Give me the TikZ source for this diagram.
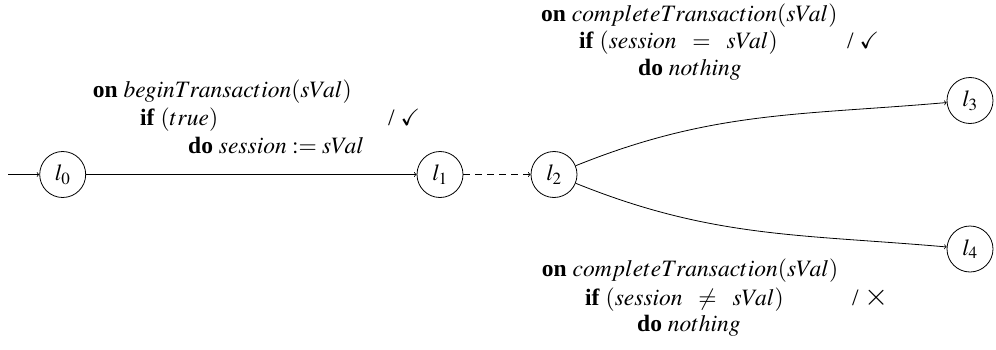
\documentclass[tikz,border=0pt]{standalone}
\usepackage{amssymb}
\usepackage{mathptmx}
\usepackage{fontspec}
\setmainfont{Liberation Serif}
\tikzset{
  state/.style={circle,draw,line width=0.8pt,minimum size=46pt,inner sep=0pt,font=\fontsize{23}{27}\selectfont},
  lbl/.style={anchor=base west,inner sep=0pt,font=\fontsize{23.5}{27}\selectfont},
  edge/.style={->,line width=0.8pt},
}
\begin{document}
\begin{tikzpicture}[x=1pt,y=1pt]
\useasboundingbox (0,0) rectangle (996,349);
\node[state] (l0) at (62.7,174.5) {$l_0$};
\node[state] (l1) at (440,174.5) {$l_1$};
\node[state] (l2) at (554,174.5) {$l_2$};
\node[state] (l3) at (970,248.5) {$l_3$};
\node[state] (l4) at (970,100) {$l_4$};
\coordinate (start) at (8,174.5);
\draw[edge] (start) -- (l0);
\draw[edge] (l0) -- (l1);
\draw[edge,dash pattern=on 7pt off 5pt] (l1) -- (l2);
\draw[edge] (l2) to[out=22,in=185] (l3);
\draw[edge] (l2) to[out=-22,in=175] (l4);
% left label
\node[lbl] (a1) at (92.7,251.7) {\textbf{on} $beginTransaction(sVal)$};
\node[lbl] (a2) at (140,223.5) {\textbf{if} $(true)$};
\node[lbl] (a3) at (188,195.7) {\textbf{do} $session := sVal$};
\node[lbl] (a4) at (388,223.5) {/ $\checkmark$};
% top label
\node[lbl] (b1) at (541,327.5) {\textbf{on} $completeTransaction(sVal)$};
\node[lbl] (b2) at (579,300.5) {\textbf{if} $(session\hspace{0.45em}=\hspace{0.45em}sVal)$};
\node[lbl] (b3) at (638,273.5) {\textbf{do} $nothing$};
\node[lbl] (b4) at (847,300.5) {/ $\checkmark$};
% bottom label
\node[lbl] (c1) at (541.7,72.3) {\textbf{on} $completeTransaction(sVal)$};
\node[lbl] (c2) at (585,44) {\textbf{if} $(session\hspace{0.45em}\neq\hspace{0.45em}sVal)$};
\node[lbl] (c3) at (637,17.3) {\textbf{do} $nothing$};
\node[lbl] (c4) at (852,44) {/ {\fontsize{31}{31}\selectfont$\times$}};
\end{tikzpicture}
\end{document}
